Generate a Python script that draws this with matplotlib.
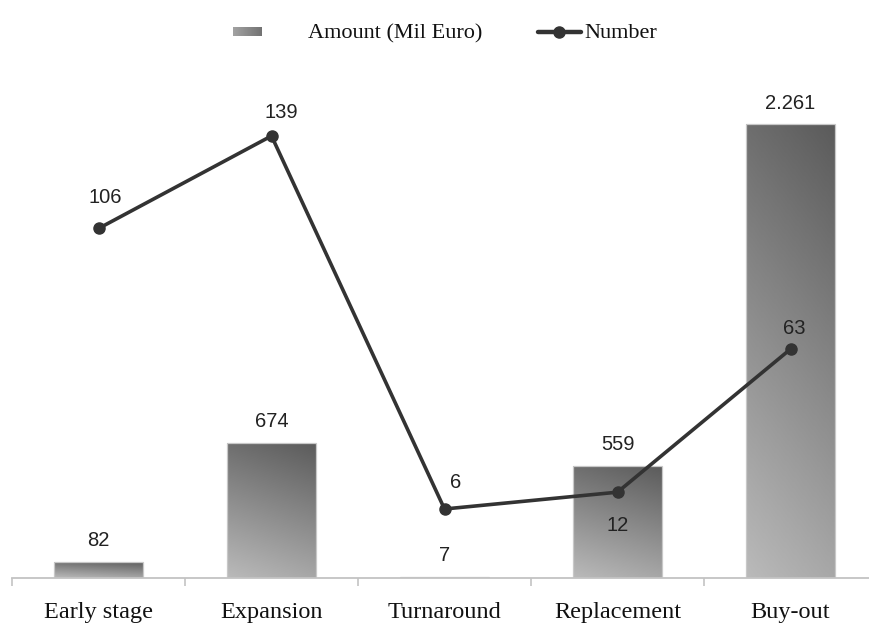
import numpy as np
import matplotlib
matplotlib.use("Agg")
import matplotlib.pyplot as plt
from matplotlib.colors import LinearSegmentedColormap
from matplotlib.patches import Rectangle
from matplotlib.lines import Line2D

# Data
categories = ["Early stage", "Expansion", "Turnaround", "Replacement", "Buy-out"]
amount = [82, 674, 7, 559, 2261]          # Mil Euro
amount_labels = ["82", "674", "7", "559", "2.261"]
number = [106, 139, 6, 12, 63]

# Label offsets for the line values (points)
number_offsets = [(5, 22), (7, 17), (8, 19), (0, -24), (3, 15)]

W, H, DPI = 869, 624, 100
fig = plt.figure(figsize=(W / DPI, H / DPI), dpi=DPI)
fig.patch.set_facecolor("white")

# Axes: 5 category slots of ~173 px starting at x=12; baseline at y=578
left_px, right_px, base_px, top_px = 12, 877, 578, 70
ax = fig.add_axes([left_px / W, (H - base_px) / H,
                   (right_px - left_px) / W, (base_px - top_px) / H])
ax.set_facecolor("none")

x = np.arange(len(categories))
bar_w = 0.51
grad_cmap = LinearSegmentedColormap.from_list("bargrad", ["#bababa", "#5b5b5b"])

bars = ax.bar(x, amount, width=bar_w, color="none", edgecolor="#c8c8c8",
              linewidth=0.9, zorder=2)

# Gray gradient inside each bar: light at the bottom, dark at the top,
# tilted slightly so the right side is a bit darker
ny, nx = 200, 60
yy, xx = np.mgrid[0:1:ny * 1j, 0:1:nx * 1j]
tgrad = 0.8 * yy + 0.2 * xx
for b in bars:
    x0, y0 = b.get_x(), b.get_y()
    bw, bh = b.get_width(), b.get_height()
    im = ax.imshow(tgrad, cmap=grad_cmap, vmin=0, vmax=1, origin="lower",
                   extent=(x0, x0 + bw, y0, y0 + bh), aspect="auto",
                   interpolation="bilinear", zorder=1.9)
    im.set_clip_path(b)

ax.set_xlim(-0.5, len(categories) - 0.5)
ax.set_ylim(0, 2530)

for xi, v, lab in zip(x, amount, amount_labels):
    ax.annotate(lab, (xi, v), xytext=(0, 15), textcoords="offset points",
                ha="center", va="center", fontsize=14.5, color="#222222",
                family="Liberation Sans", zorder=5)

# Axis styling
for s in ["top", "right", "left"]:
    ax.spines[s].set_visible(False)
ax.spines["bottom"].set_color("#c3c3c3")
ax.spines["bottom"].set_linewidth(1.3)
ax.set_yticks([])
ax.set_xticks(x)
ax.set_xticklabels(categories, family="Liberation Serif", fontsize=17.5,
                   color="#111111")
ax.tick_params(axis="x", which="major", length=0, pad=17)
ax.set_xticks(np.arange(len(categories) + 1) - 0.5, minor=True)
ax.tick_params(axis="x", which="minor", length=6, width=1.2,
               color="#c3c3c3", direction="out")

# Secondary axis for the number of deals
ax2 = ax.twinx()
ax2.set_ylim(-18.6, 162.5)
for s in ax2.spines.values():
    s.set_visible(False)
ax2.set_yticks([])
ax2.plot(x, number, color="#333333", linewidth=2.6, marker="o",
         markersize=8, markerfacecolor="#333333", markeredgecolor="#333333",
         solid_capstyle="round", zorder=4)
for xi, v, (dx, dy) in zip(x, number, number_offsets):
    ax2.annotate(str(v), (xi, v), xytext=(dx, dy), textcoords="offset points",
                 ha="center", va="center", fontsize=14.5, color="#222222",
                 family="Liberation Sans", zorder=5)

# Legend drawn in figure pixel space
leg = fig.add_axes([0, 0, 1, 1], facecolor="none")
leg.set_xlim(0, W)
leg.set_ylim(H, 0)
leg.axis("off")
sw = Rectangle((233, 27), 29, 9, facecolor="none", edgecolor="none")
leg.add_patch(sw)
gim = leg.imshow(np.tile(np.linspace(0, 1, 40), (10, 1)) * 0.5 + 0.25,
                 cmap=grad_cmap, vmin=0, vmax=1, extent=(233, 262, 36, 27),
                 aspect="auto", interpolation="bilinear")
gim.set_clip_path(sw)
leg.set_xlim(0, W)
leg.set_ylim(H, 0)
leg.text(308, 34, "Amount (Mil Euro)", family="Liberation Serif", fontsize=16,
         ha="left", va="center", color="#111111")
leg.add_line(Line2D([538, 581], [32, 32], color="#333333", linewidth=3.2,
                    solid_capstyle="round"))
leg.add_line(Line2D([559], [32], color="#333333", marker="o", markersize=8))
leg.text(584, 34, "Number", family="Liberation Serif", fontsize=16,
         ha="left", va="center", color="#111111")

fig.savefig("out.png", dpi=DPI)
